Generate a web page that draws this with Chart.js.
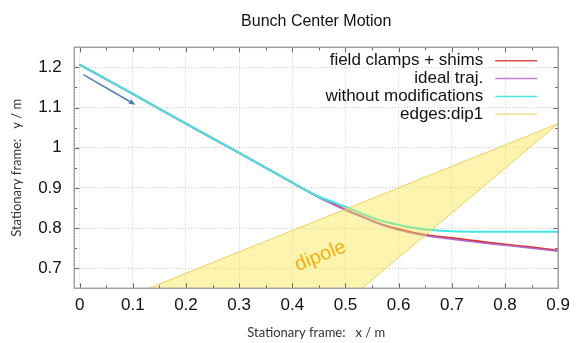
<!DOCTYPE html>
<html>
<head>
<meta charset="utf-8">
<script src="https://cdn.jsdelivr.net/npm/chart.js@4.4.1/dist/chart.umd.min.js"></script>
<style>
  html, body { margin: 0; padding: 0; background: #ffffff; }
  #wrap { width: 577px; height: 343px; }
</style>
</head>
<body>
<div id="wrap"><canvas id="motionChart" width="577" height="343"></canvas></div>
<script>
// Data
// **************************************
const xTicks = [0, 0.1, 0.2, 0.3, 0.4, 0.5, 0.6, 0.7, 0.8, 0.9];
const yTicks = [0.7, 0.8, 0.9, 1, 1.1, 1.2];

const trajX = [0, 0.1, 0.2, 0.3, 0.4, 0.42, 0.45, 0.48, 0.5, 0.53, 0.56, 0.58, 0.6, 0.63, 0.66, 0.7, 0.75, 0.8, 0.85, 0.9];
const clampsY = [1.207, 1.134, 1.06, 0.987, 0.913, 0.898, 0.877, 0.858, 0.846, 0.829, 0.813, 0.804, 0.797, 0.788, 0.781, 0.775, 0.767, 0.759, 0.752, 0.744];
const idealY = [1.207, 1.134, 1.06, 0.987, 0.913, 0.898, 0.876, 0.857, 0.845, 0.828, 0.812, 0.803, 0.795, 0.786, 0.779, 0.772, 0.764, 0.757, 0.75, 0.742];
const plainY = [1.207, 1.134, 1.06, 0.987, 0.913, 0.898, 0.878, 0.863, 0.853, 0.836, 0.821, 0.814, 0.808, 0.8, 0.795, 0.792, 0.791, 0.791, 0.791, 0.791];

// dipole edges (polygon, runs past the bottom of the frame)
const edgeX = [0.036, 0.9, 0.486, 0.036];
const edgeY = [0.6, 1.06, 0.6, 0.6];

// arrow + label
const arrowX = [0.007, 0.105];
const arrowY = [1.182, 1.107];
const dipoleLabel = { x: 0.453, y: 0.73, text: 'dipole' };

const pts = (xs, ys) => xs.map((x, i) => ({ x: x, y: ys[i] }));

Chart.defaults.font.family = '"Liberation Sans", Arial, sans-serif';

// Plugins: frame with inward ticks, key, annotations
// **************************************
const framePlugin = {
  id: 'frame',
  afterDatasetsDraw(chart) {
    const { ctx, chartArea: a, scales } = chart;
    const sx = scales.x, sy = scales.y;
    ctx.save();
    ctx.strokeStyle = '#666666';
    ctx.lineWidth = 1;
    ctx.beginPath();
    for (let i = 0; i <= 18; i++) {
      const v = i * 0.05;
      const px = Math.round(sx.getPixelForValue(v)) + 0.5;
      const len = i % 2 === 0 ? 5 : 3;
      ctx.moveTo(px, a.bottom); ctx.lineTo(px, a.bottom - len);
      ctx.moveTo(px, a.top); ctx.lineTo(px, a.top + len);
    }
    for (let i = 0; i <= 12; i++) {
      const v = 0.65 + i * 0.05;
      const py = Math.round(sy.getPixelForValue(v)) + 0.5;
      const len = i % 2 === 1 ? 5 : 3;
      ctx.moveTo(a.left, py); ctx.lineTo(a.left + len, py);
      ctx.moveTo(a.right, py); ctx.lineTo(a.right - len, py);
    }
    ctx.stroke();
    ctx.strokeStyle = '#a0a0a0';
    ctx.lineWidth = 1.5;
    ctx.strokeRect(a.left, a.top, a.right - a.left, a.bottom - a.top);
    ctx.restore();
  },
};

const keyPlugin = {
  id: 'keyBox',
  afterDraw(chart) {
    const { ctx, chartArea: a } = chart;
    ctx.save();
    ctx.font = '17px "Liberation Sans", Arial, sans-serif';
    ctx.textAlign = 'right';
    ctx.textBaseline = 'middle';
    chart.data.datasets.forEach((ds, i) => {
      const y = a.top + 13.5 + i * 17.8;
      ctx.fillStyle = '#111111';
      ctx.fillText(ds.label, a.right - 75, y);
      ctx.strokeStyle = ds.keyColor;
      ctx.lineWidth = 1.5;
      ctx.beginPath();
      ctx.moveTo(a.right - 63, y);
      ctx.lineTo(a.right - 21, y);
      ctx.stroke();
    });
    ctx.restore();
  },
};

const notesPlugin = {
  id: 'notes',
  afterDatasetsDraw(chart) {
    const { ctx, scales } = chart;
    const sx = scales.x, sy = scales.y;
    const x0 = sx.getPixelForValue(arrowX[0]), y0 = sy.getPixelForValue(arrowY[0]);
    const x1 = sx.getPixelForValue(arrowX[1]), y1 = sy.getPixelForValue(arrowY[1]);
    const ang = Math.atan2(y1 - y0, x1 - x0);
    ctx.save();
    ctx.strokeStyle = '#4f7fbd';
    ctx.fillStyle = '#4f7fbd';
    ctx.lineWidth = 1.5;
    ctx.beginPath();
    ctx.moveTo(x0, y0);
    ctx.lineTo(x1 - 4 * Math.cos(ang), y1 - 4 * Math.sin(ang));
    ctx.stroke();
    ctx.beginPath();
    ctx.moveTo(x1, y1);
    ctx.lineTo(x1 - 7 * Math.cos(ang - 0.4), y1 - 7 * Math.sin(ang - 0.4));
    ctx.lineTo(x1 - 7 * Math.cos(ang + 0.4), y1 - 7 * Math.sin(ang + 0.4));
    ctx.closePath();
    ctx.fill();

    ctx.translate(sx.getPixelForValue(dipoleLabel.x), sy.getPixelForValue(dipoleLabel.y));
    ctx.rotate(-22 * Math.PI / 180);
    ctx.font = '20px "Liberation Sans", Arial, sans-serif';
    ctx.fillStyle = '#f5b00a';
    ctx.textAlign = 'center';
    ctx.textBaseline = 'middle';
    ctx.fillText(dipoleLabel.text, 0, 0);
    ctx.restore();
  },
};

// Config
// **************************************
const config = {
  type: 'scatter',
  data: {
    datasets: [
      {
        label: 'field clamps + shims',
        data: pts(trajX, clampsY),
        borderColor: '#d8302c',
        keyColor: '#e05050',
        borderWidth: 2,
        order: 3,
      },
      {
        label: 'ideal traj.',
        data: pts(trajX, idealY),
        borderColor: '#b26ed8',
        keyColor: '#c07fd8',
        borderWidth: 1.5,
        order: 2,
      },
      {
        label: 'without modifications',
        data: pts(trajX, plainY),
        borderColor: '#3fe6e6',
        keyColor: '#4de6e0',
        borderWidth: 2,
        order: 1,
      },
      {
        label: 'edges:dip1',
        data: pts(edgeX, edgeY),
        borderColor: '#f0cf60',
        keyColor: '#f2da90',
        backgroundColor: 'rgba(250, 228, 55, 0.4)',
        borderWidth: 1,
        fill: 'shape',
        tension: 0,
        cubicInterpolationMode: 'default',
        order: 0,
      },
    ],
  },
  options: {
    responsive: false,
    animation: false,
    showLine: true,
    elements: {
      point: { radius: 0, hoverRadius: 0 },
      line: { cubicInterpolationMode: 'monotone', fill: false },
    },
    layout: { padding: { top: 0, right: 14, bottom: 0, left: 0 } },
    plugins: {
      legend: { display: false },
      tooltip: { enabled: false },
      title: {
        display: true,
        text: 'Bunch Center Motion',
        fullSize: false,
        color: '#111111',
        font: { size: 16, weight: 'normal' },
        padding: { top: 12.4, bottom: 15.7 },
      },
    },
    scales: {
      x: {
        type: 'linear',
        min: -0.01,
        max: 0.9,
        afterBuildTicks: (s) => { s.ticks = xTicks.map((v) => ({ value: v })); },
        afterFit: (s) => { s.height = 54.7; },
        grid: { color: '#cccccc', drawTicks: false },
        border: { display: false, dash: [1, 2] },
        ticks: {
          color: '#111111',
          font: { size: 17 },
          padding: 7,
          maxRotation: 0,
          autoSkip: false,
          callback: (v) => String(+Number(v).toFixed(2)),
        },
        title: {
          display: true,
          text: 'Stationary frame:   x / m',
          color: '#333333',
          font: { family: 'Lato', size: 13 },
          padding: { top: 0, bottom: 2.2 },
        },
      },
      y: {
        min: 0.65,
        max: 1.25,
        afterBuildTicks: (s) => { s.ticks = yTicks.map((v) => ({ value: v })); },
        afterFit: (s) => { s.width = 74.3; },
        grid: { color: '#cccccc', drawTicks: false },
        border: { display: false, dash: [1, 2] },
        ticks: {
          color: '#111111',
          font: { size: 17 },
          padding: 12.5,
          callback: (v) => String(+Number(v).toFixed(2)),
        },
        title: {
          display: true,
          text: 'Stationary frame:   y / m',
          color: '#333333',
          font: { family: 'Lato', size: 13 },
          padding: { top: 8.7, bottom: 0 },
        },
      },
    },
  },
  plugins: [framePlugin, keyPlugin, notesPlugin],
};

// Render
new Chart(document.getElementById('motionChart'), config);
</script>
</body>
</html>
